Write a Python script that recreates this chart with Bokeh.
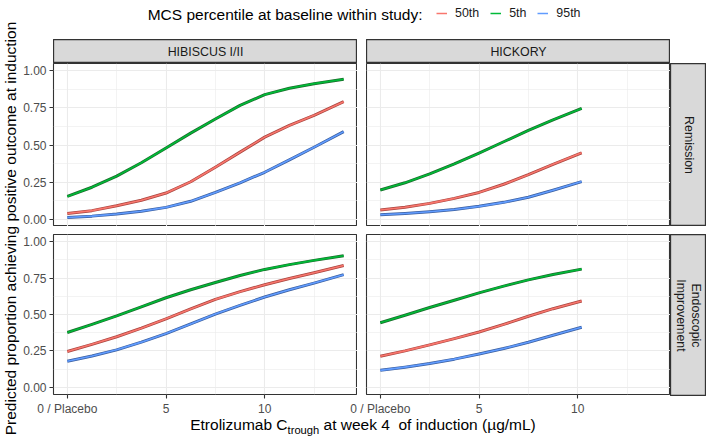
import math
from bokeh.plotting import figure
from bokeh.models import (FixedTicker, Range1d, Legend, LegendItem, Div, Spacer,
                          NumeralTickFormatter)
from bokeh.layouts import row, column
from bokeh.embed import file_html
from bokeh.resources import INLINE
from bokeh.core.properties import value

FONT = "Liberation Sans"

# ---------------- data ----------------
studies = ["HIBISCUS I/II", "HICKORY"]
endpoints = ["Remission", "Endoscopic\nImprovement"]
percentiles = ["50th", "5th", "95th"]
legend_title = "MCS percentile at baseline within study:"
x_title_html = "Etrolizumab C<sub style='font-size:0.72em'>trough</sub> at week 4&nbsp; of induction (\u00b5g/mL)"
y_title = "Predicted proportion achieving positive outcome at induction"

x_ticks = [0, 5, 10]
x_minor = [2.5, 7.5, 12.5]
x_tick_labels = {0: "0 / Placebo"}
y_ticks = [0, 0.25, 0.5, 0.75, 1.0]
y_minor = [0.125, 0.375, 0.625, 0.875]

conc_hibiscus = [0, 1.25, 2.5, 3.75, 5, 6.25, 7.5, 8.75, 10, 11.25, 12.5, 14.0]
conc_hickory = [0, 1.25, 2.5, 3.75, 5, 6.25, 7.5, 8.75, 10.2]

hib_rem_50 = [0.038, 0.057, 0.090, 0.127, 0.176, 0.252, 0.350, 0.452, 0.553, 0.632, 0.700, 0.792]
hib_rem_5 = [0.153, 0.215, 0.290, 0.380, 0.480, 0.580, 0.675, 0.767, 0.840, 0.883, 0.914, 0.944]
hib_rem_95 = [0.011, 0.020, 0.034, 0.053, 0.079, 0.120, 0.180, 0.245, 0.316, 0.400, 0.485, 0.590]

hick_rem_50 = [0.061, 0.080, 0.106, 0.140, 0.180, 0.235, 0.300, 0.370, 0.447]
hick_rem_5 = [0.196, 0.245, 0.305, 0.372, 0.445, 0.522, 0.598, 0.670, 0.747]
hick_rem_95 = [0.029, 0.038, 0.050, 0.065, 0.086, 0.113, 0.147, 0.195, 0.253]

hib_endo_50 = [0.246, 0.295, 0.347, 0.406, 0.470, 0.538, 0.604, 0.657, 0.705, 0.748, 0.787, 0.837]
hib_endo_5 = [0.376, 0.432, 0.490, 0.553, 0.615, 0.670, 0.720, 0.768, 0.810, 0.843, 0.872, 0.904]
hib_endo_95 = [0.179, 0.215, 0.257, 0.310, 0.369, 0.435, 0.503, 0.563, 0.620, 0.670, 0.716, 0.774]

hick_endo_50 = [0.213, 0.250, 0.291, 0.334, 0.380, 0.432, 0.488, 0.540, 0.593]
hick_endo_5 = [0.443, 0.495, 0.548, 0.598, 0.649, 0.695, 0.738, 0.775, 0.812]
hick_endo_95 = [0.116, 0.138, 0.163, 0.193, 0.228, 0.266, 0.309, 0.357, 0.412]

colors = {"50th": "#F8766D", "5th": "#00BA38", "95th": "#619CFF"}
edge_colors = {"50th": "#A9453F", "5th": "#1B6B2B", "95th": "#3A5E9E"}

panel_data = {
    ("Remission", "HIBISCUS I/II"): (conc_hibiscus, {"50th": hib_rem_50, "5th": hib_rem_5, "95th": hib_rem_95}),
    ("Remission", "HICKORY"): (conc_hickory, {"50th": hick_rem_50, "5th": hick_rem_5, "95th": hick_rem_95}),
    ("Endoscopic\nImprovement", "HIBISCUS I/II"): (conc_hibiscus, {"50th": hib_endo_50, "5th": hib_endo_5, "95th": hib_endo_95}),
    ("Endoscopic\nImprovement", "HICKORY"): (conc_hickory, {"50th": hick_endo_50, "5th": hick_endo_5, "95th": hick_endo_95}),
}

# ---------------- layout sizes ----------------
YT_W = 20
LEFT_B = 33
FRAME_W = 304
GAP = 9
STRIP_W = 36
MAIN_W = LEFT_B + FRAME_W + GAP + FRAME_W + STRIP_W  # 686
LEG_H = 39
STRIP_H = 24
TOP_H = 163
VGAP = 8
BOT_H = 162
BOT_B = 22
XT_H = 22
TOTAL_H = LEG_H + STRIP_H + TOP_H + VGAP + BOT_H + BOT_B + XT_H  # 440


def blank(width, height, xr, yr, **kw):
    p = figure(width=width, height=height, x_range=Range1d(*xr), y_range=Range1d(*yr),
               x_axis_location=None, y_axis_location=None,
               output_backend="svg", toolbar_location=None,
               min_border_left=0, min_border_right=0, min_border_top=0, min_border_bottom=0,
               margin=0, **kw)
    p.grid.visible = False
    return p


def style_axis(ax):
    ax.axis_line_color = None
    ax.major_tick_line_color = "#333333"
    ax.major_tick_line_width = 1.1
    ax.major_tick_in = 0
    ax.major_tick_out = 4
    ax.minor_tick_line_color = None
    ax.major_label_text_font = FONT
    ax.major_label_text_font_size = "12px"
    ax.major_label_text_color = "#4D4D4D"
    ax.major_label_standoff = 3


def make_panel(width, height, border_left, border_bottom, show_x, show_y, endpoint, study, **kw):
    p = figure(width=width, height=height,
               x_range=Range1d(-0.7, 14.7), y_range=Range1d(-0.05, 1.05),
               x_axis_location="below" if show_x else None,
               y_axis_location="left" if show_y else None,
               output_backend="svg", toolbar_location=None,
               min_border_left=border_left, min_border_right=0,
               min_border_top=0, min_border_bottom=border_bottom,
               background_fill_color="white",
               outline_line_color="#333333", outline_line_width=1.1, **kw)
    for g in p.xgrid:
        g.ticker = FixedTicker(ticks=x_ticks, minor_ticks=x_minor)
    for g in p.ygrid:
        g.ticker = FixedTicker(ticks=y_ticks, minor_ticks=y_minor)
    p.grid.grid_line_color = "#EBEBEB"
    p.grid.grid_line_width = 1.1
    p.grid.minor_grid_line_color = "#EBEBEB"
    p.grid.minor_grid_line_width = 0.6
    if show_x:
        p.xaxis.ticker = FixedTicker(ticks=x_ticks)
        p.xaxis.major_label_overrides = x_tick_labels
        style_axis(p.xaxis[0])
    if show_y:
        p.yaxis.ticker = FixedTicker(ticks=y_ticks)
        p.yaxis.formatter = NumeralTickFormatter(format="0.00")
        style_axis(p.yaxis[0])
    xs, series = panel_data[(endpoint, study)]
    for pc in percentiles:
        p.line(xs, series[pc], line_color=edge_colors[pc], line_width=3.0, line_join="round")
        p.line(xs, series[pc], line_color=colors[pc], line_width=1.6, line_join="round")
    return p


def top_strip(label):
    p = blank(FRAME_W, STRIP_H, (0, 1), (0, 1),
              background_fill_color="#D9D9D9", outline_line_color="#333333", outline_line_width=1.3)
    p.text(x=[0.5], y=[0.5], text=[label], text_align="center", text_baseline="middle",
           text_font=value(FONT), text_font_size="12.4px", text_color="#1A1A1A")
    return p


def right_strip(label, height):
    p = blank(STRIP_W, height, (0, 1), (0, 1),
              background_fill_color="#D9D9D9", outline_line_color="#333333", outline_line_width=1.3)
    p.text(x=[0.5], y=[0.5], text=[label], angle=-math.pi / 2, text_align="center",
           text_baseline="middle", text_font=value(FONT), text_font_size="12.4px",
           text_color="#1A1A1A", text_line_height=1.1)
    return p


# ---------------- legend ----------------
lp = blank(MAIN_W, LEG_H, (0, MAIN_W), (0, LEG_H), outline_line_color=None)
lp.text(x=[402], y=[LEG_H - 14], text=[legend_title], text_align="right", text_baseline="middle",
        text_font=value(FONT), text_font_size="15.5px", text_color="#000000")
items = []
for pc in percentiles:
    # keys only: the points lie outside the visible range
    r = lp.line(x=[-50, -40], y=[-50, -50], line_color=colors[pc], line_width=1.5)
    items.append(LegendItem(label=pc, renderers=[r]))
legend = Legend(items=items, orientation="horizontal", location=(416, LEG_H - 14 - 6),
                glyph_width=11, glyph_height=12, label_height=12, label_width=10,
                label_standoff=8, spacing=11, padding=0, margin=0,
                border_line_color=None, background_fill_alpha=0,
                label_text_font=FONT, label_text_font_size="12.4px",
                label_text_color="#1A1A1A", label_text_baseline="middle")
lp.add_layout(legend)

# ---------------- y title ----------------
yt = blank(YT_W, TOTAL_H, (0, YT_W), (0, TOTAL_H), outline_line_color=None)
yt.text(x=[10], y=[TOTAL_H - 228], text=[y_title], angle=math.pi / 2,
        text_align="center", text_baseline="middle",
        text_font=value(FONT), text_font_size="15.5px", text_color="#000000")

# ---------------- panels ----------------
strip_row = row(Spacer(width=LEFT_B, height=STRIP_H), top_strip(studies[0]),
                Spacer(width=GAP, height=STRIP_H), top_strip(studies[1]),
                Spacer(width=STRIP_W, height=STRIP_H), spacing=0)

tl = make_panel(LEFT_B + FRAME_W, TOP_H, LEFT_B, 0, False, True, endpoints[0], studies[0], margin=0)
tr = make_panel(FRAME_W, TOP_H, 0, 0, False, False, endpoints[0], studies[1], margin=0)
top_row = row(tl, Spacer(width=GAP, height=TOP_H), tr,
              right_strip(endpoints[0], TOP_H), spacing=0)

OVER = 20
bl = make_panel(LEFT_B + FRAME_W, BOT_H + BOT_B, LEFT_B, BOT_B, True, True, endpoints[1], studies[0], margin=0)
br = make_panel(GAP + OVER + FRAME_W, BOT_H + BOT_B, GAP + OVER, BOT_B, True, False,
                endpoints[1], studies[1], margin=(0, 0, 0, -OVER),
                border_fill_alpha=0)
rs_b = column(right_strip(endpoints[1], BOT_H), Spacer(width=STRIP_W, height=BOT_B), spacing=0)
bottom_row = row(bl, br, rs_b, spacing=0)

xt = Div(text=x_title_html, width=MAIN_W, height=XT_H, margin=0,
         styles={"font-family": FONT, "font-size": "15.5px", "color": "#000000",
                 "text-align": "center", "line-height": "14px"})

main = column(lp, strip_row, top_row, Spacer(width=MAIN_W, height=VGAP), bottom_row, xt, spacing=0)
layout = row(yt, main, spacing=0)

open("out.html", "w").write(file_html(layout, INLINE))
